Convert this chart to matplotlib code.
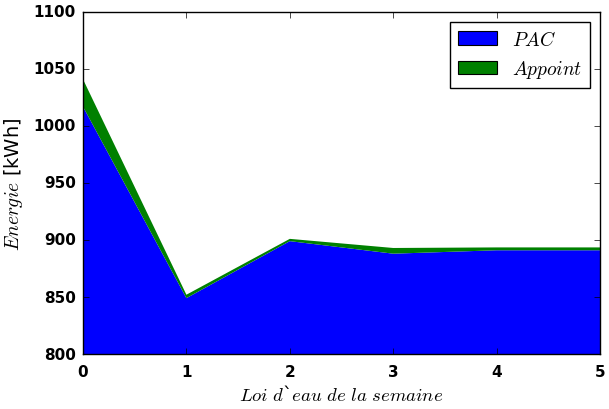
import matplotlib
matplotlib.use("Agg")
import matplotlib.pyplot as plt

plt.style.use('classic')
plt.rcParams['mathtext.fontset'] = 'cm'

x = [0, 1, 2, 3, 4, 5]
pac = [1017, 849, 899, 888, 891, 891]
appoint = [24, 3, 2, 5, 2.5, 2.5]
labels = ['$PAC$', '$Appoint$']
colors = ['blue', 'green']

fig = plt.figure(figsize=(6.09, 4.10), dpi=100)
ax = fig.add_axes([83/609, 1-355/410, (600-83)/609, (355-13)/410])
ax.stackplot(x, pac, appoint, colors=colors, labels=labels, edgecolor='none')
ax.set_xlim(0, 5)
ax.set_ylim(800, 1100)
ax.set_xlabel("$Loi\\ d$`$eau\\ de\\ la\\ semaine$", fontsize=13.5, labelpad=4)
ax.set_ylabel("$Energie$ [kWh]", fontsize=14, labelpad=6)
leg = ax.legend(loc='upper right', fontsize=14)
for p in leg.get_patches():
    p.set_edgecolor('black')
    p.set_linewidth(0.8)
ax.tick_params(labelsize=11)
ax.tick_params(axis='x', pad=7)
ax.tick_params(axis='y', pad=5)
for lab in ax.get_xticklabels() + ax.get_yticklabels():
    lab.set_fontweight('bold')
fig.savefig('out.png', dpi=100)
